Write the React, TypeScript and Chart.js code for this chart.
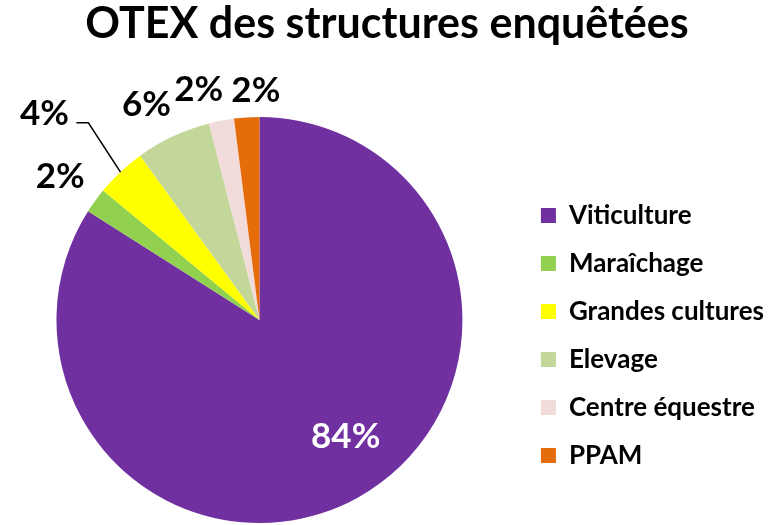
import React, { useEffect, useRef } from "react";
import { Chart, registerables } from "chart.js";

Chart.register(...registerables);

const TITLE = "OTEX des structures enquêtées";
const categories = ["Viticulture", "Maraîchage", "Grandes cultures", "Elevage", "Centre équestre", "PPAM"];
const values = [42, 1, 2, 3, 1, 1];
const colors = ["#7030A0", "#92D050", "#FFFF00", "#C4D79B", "#F2DCDB", "#E46C0A"];

// label placement (style): radial distance beyond the pie edge, angular nudge (deg), text colour
const labelExtra = [-59, 43, 96, 41, 36, 28];
const labelAngleShift = [-8, -0.1, -2.8, -2.4, -3.9, 2.7];
const labelColors = ["#FFFFFF", "#000000", "#000000", "#000000", "#000000", "#000000"];
const leaderFor = [false, false, true, false, false, false];

const FONT = "Lato, Carlito, 'Noto Sans', sans-serif";

const pctLabels = {
  id: "pctLabels",
  afterDatasetsDraw(chart: any) {
    const ctx = chart.ctx;
    const meta = chart.getDatasetMeta(0);
    const data = chart.data.datasets[0].data as number[];
    const total = data.reduce((a: number, b: number) => a + b, 0);
    const size = 35;
    ctx.save();
    ctx.font = `bold ${size}px ${FONT}`;
    ctx.textAlign = "center";
    ctx.textBaseline = "alphabetic";
    meta.data.forEach((arc: any, i: number) => {
      const p = arc.getProps(["x", "y", "startAngle", "endAngle", "outerRadius"], true);
      const mid = (p.startAngle + p.endAngle) / 2;
      const a = mid + (labelAngleShift[i] * Math.PI) / 180;
      const r = p.outerRadius + labelExtra[i];
      const lx = p.x + Math.cos(a) * r;
      const ly = p.y + Math.sin(a) * r;
      const txt = Math.round((data[i] / total) * 100) + "%";
      ctx.fillStyle = labelColors[i];
      ctx.fillText(txt, lx, ly + 0.358 * size);
      if (leaderFor[i]) {
        const ex = p.x + Math.cos(mid) * p.outerRadius;
        const ey = p.y + Math.sin(mid) * p.outerRadius;
        ctx.beginPath();
        ctx.strokeStyle = "#000000";
        ctx.lineWidth = 1.5;
        ctx.moveTo(lx + 32, ly + 10.5);
        ctx.lineTo(lx + 44, ly + 10.5);
        ctx.lineTo(ex, ey);
        ctx.stroke();
      }
    });
    ctx.restore();
  },
};

export default function App() {
  const ref = useRef<HTMLCanvasElement>(null);
  useEffect(() => {
    if (!ref.current) return;
    const chart = new Chart(ref.current, {
      type: "pie",
      data: {
        labels: categories,
        datasets: [
          {
            data: values,
            backgroundColor: colors,
            borderWidth: 0,
          },
        ],
      },
      options: {
        responsive: false,
        animation: false,
        events: [],
        layout: { padding: { top: 0, bottom: 2, left: 0, right: 0 } },
        plugins: {
          title: {
            display: true,
            text: TITLE,
            color: "#000000",
            font: { family: FONT, size: 43, weight: "bold", lineHeight: 1.14 },
            padding: { top: 0, bottom: 68 },
          },
          legend: {
            display: true,
            position: "right",
            fullSize: false,
            align: "center",
            title: { display: true, text: "", font: { size: 10, lineHeight: 1 }, padding: { top: 21, bottom: 0 } },
            labels: {
              color: "#000000",
              font: { family: FONT, size: 26, weight: "bold" },
              boxWidth: 15,
              boxHeight: 15,
              padding: 22,
            },
          },
          tooltip: { enabled: false },
        },
      },
      plugins: [pctLabels],
    });
    return () => chart.destroy();
  }, []);
  return (
    <div style={{ position: "fixed", left: 0, top: 0, width: 774, height: 525, background: "#fff" }}>
      <canvas ref={ref} width={774} height={525} style={{ display: "block", width: 774, height: 525 }} />
    </div>
  );
}
